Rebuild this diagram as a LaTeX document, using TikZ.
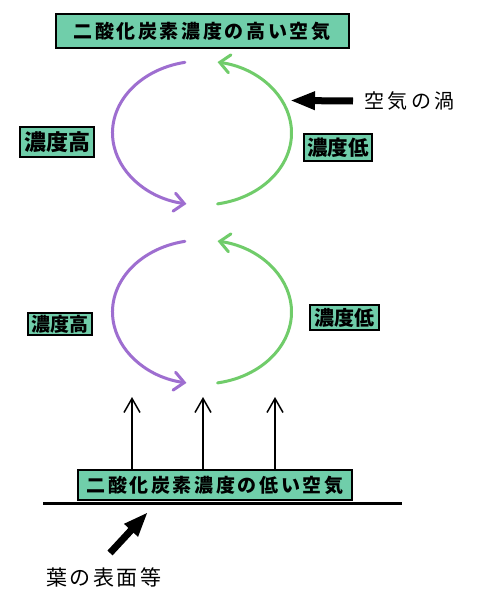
\documentclass[tikz,border=0pt]{standalone}
\usepackage{fontspec}
\usetikzlibrary{arrows.meta,calc}
\newfontfamily\jp{Noto Sans CJK JP}
\definecolor{mint}{RGB}{112,206,170}
\definecolor{vio}{RGB}{158,110,208}
\definecolor{grn}{RGB}{112,204,106}
\begin{document}
\begin{tikzpicture}[x=1pt,y=-1pt,
  bigbox/.style={draw=black,line width=2pt,fill=mint,inner sep=0pt,font=\jp\bfseries},
  lbl/.style={draw=black,line width=1.6pt,fill=mint,inner sep=0pt,font=\jp\bfseries},
  plain/.style={inner sep=0pt,font=\jp},
  vioarc/.style={draw=vio,line width=3pt,line cap=round,-{Straight Barb[length=10pt,width=18pt,line cap=round]}},
  grnarc/.style={draw=grn,line width=3pt,line cap=round,-{Straight Barb[length=10pt,width=18pt,line cap=round]}},
  uparrow/.style={draw=black,line width=1.5pt,-{Straight Barb[length=14pt,width=16pt]}},
  fatarrow/.style={draw=black,line width=7pt,-{Triangle[length=25pt,width=17pt]}}]
\useasboundingbox (0,0) rectangle (480,602);
\fill[white] (0,0) rectangle (480,602);

% top box
\node[bigbox,minimum width=293pt,minimum height=34pt] (top) at (202,31.5)
  {\addfontfeature{LetterSpace=14}\fontsize{19}{19}\selectfont 二酸化炭素濃度の高い空気};

% upper vortex
\coordinate (c1) at (202,133);
\draw[vioarc] ($(c1)+(259:89.5 and 72)$) arc[start angle=259,end angle=100,x radius=89.5,y radius=72];
\draw[grnarc] ($(c1)+(80:89.5 and 72)$) arc[start angle=80,end angle=-80,x radius=89.5,y radius=72];

% lower vortex
\coordinate (c2) at (202,312);
\draw[vioarc] ($(c2)+(259:89.5 and 72)$) arc[start angle=259,end angle=100,x radius=89.5,y radius=72];
\draw[grnarc] ($(c2)+(80:89.5 and 72)$) arc[start angle=80,end angle=-80,x radius=89.5,y radius=72];

% labels
\node[lbl,minimum width=74pt,minimum height=30pt] (h1) at (57,142)
  {\fontsize{22}{22}\selectfont 濃度高};
\node[lbl,minimum width=68pt,minimum height=27pt] (l1) at (338,147.5)
  {\fontsize{20.5}{20.5}\selectfont 濃度低};
\node[lbl,minimum width=64pt,minimum height=22pt] (h2) at (60,324)
  {\fontsize{19}{19}\selectfont 濃度高};
\node[lbl,minimum width=69pt,minimum height=25pt] (l2) at (344.5,317.5)
  {\fontsize{20}{20}\selectfont 濃度低};

% air vortex label and arrow
\node[plain,anchor=west] (uzu) at (364,101)
  {\addfontfeature{LetterSpace=18}\fontsize{20}{20}\selectfont 空気の渦};
\coordinate (uzutip) at (290,100.5);
\draw[fatarrow] (uzu.west) ++(-11,0) coordinate (uzutail) (uzutail) -- (uzutip);

% bottom box
\node[bigbox,minimum width=274pt,minimum height=30pt] (bot) at (215,485)
  {\addfontfeature{LetterSpace=14}\fontsize{19}{19}\selectfont 二酸化炭素濃度の低い空気};

% upward arrows
\coordinate (t1) at (132,397);
\coordinate (t2) at (203,397);
\coordinate (t3) at (275,397);
\draw[uparrow] (bot.north -| t1) -- (t1);
\draw[uparrow] (bot.north -| t2) -- (t2);
\draw[uparrow] (bot.north -| t3) -- (t3);

% ground line
\coordinate (g1) at (43,503);
\coordinate (g2) at (402,503);
\draw[line width=3pt] (g1) -- (g2);

% leaf surface label and arrow
\node[plain] (leaf) at (104,577)
  {\addfontfeature{LetterSpace=12}\fontsize{21}{21}\selectfont 葉の表面等};
\coordinate (leaftail) at (110,553);
\coordinate (leaftip) at (148,512);
\draw[fatarrow] (leaftail) -- (leaftip);
\end{tikzpicture}
\end{document}
